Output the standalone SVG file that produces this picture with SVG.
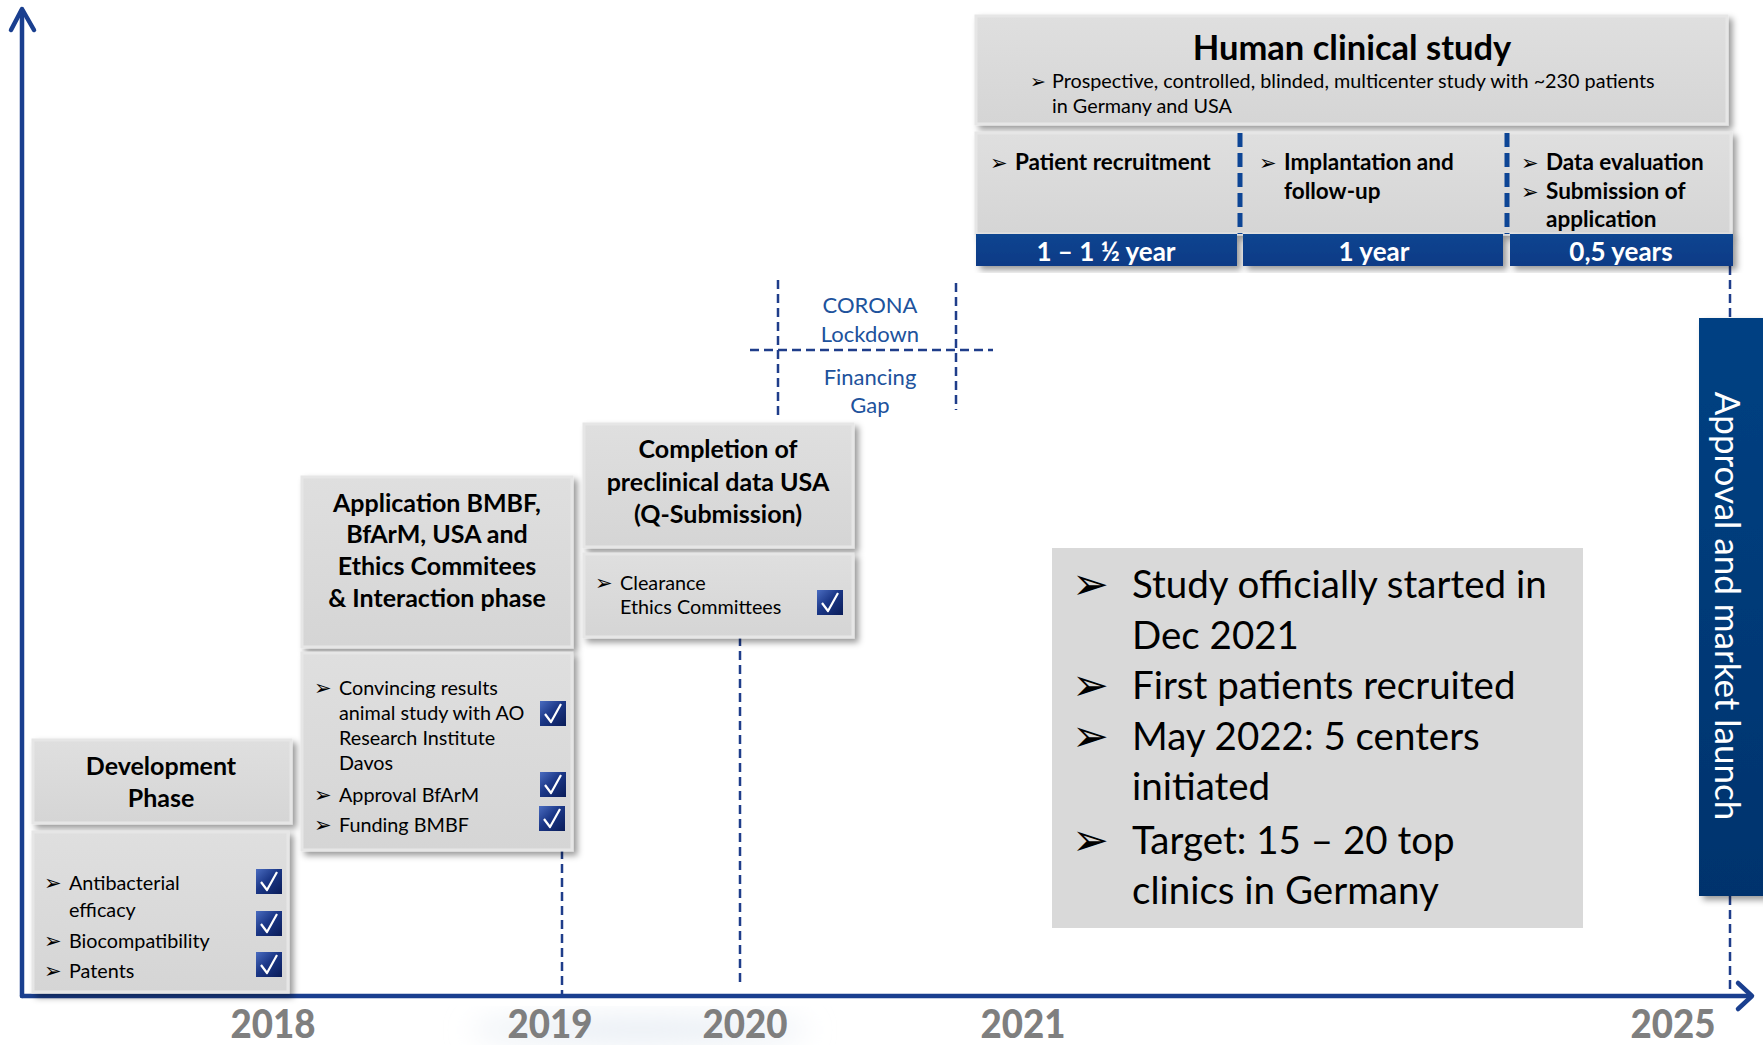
<svg xmlns="http://www.w3.org/2000/svg" xmlns:xlink="http://www.w3.org/1999/xlink" width="1763" height="1045" viewBox="0 0 1763 1045">
  <defs>
    <style>
      text { font-family: Lato, "Open Sans", "Liberation Sans", sans-serif; fill: #000; }
      .ttl { font-weight: 700; font-size: 25px; text-anchor: middle; }
      .itm { font-size: 19.8px; }
      .bul { font-family: "DejaVu Sans", sans-serif; font-size: 21px; }
      .bulB { font-family: "DejaVu Sans", sans-serif; font-size: 44px; }
      .col { font-weight: 700; font-size: 22.5px; }
      .band { font-weight: 700; font-size: 26px; fill: #fff; text-anchor: middle; }
      .blue { font-size: 22px; fill: #20529c; text-anchor: middle; }
      .big { font-size: 38.5px; }
      .year { font-weight: 900; font-size: 40px; fill: #7f7f7f; text-anchor: middle; }
      .box { fill: url(#boxFill); stroke: #e6e6e6; stroke-width: 3; filter: url(#shadow); }
      .bandRect { fill: url(#bandFill); filter: url(#shadow); }
      .axis { stroke: #1a3f8f; stroke-width: 4.5; fill: none; stroke-linecap: round; stroke-linejoin: round; }
      .dash { stroke: #1f3d8a; stroke-width: 2.5; fill: none; stroke-dasharray: 9 5; }
      .divider { stroke: #0d4595; stroke-width: 5; fill: none; stroke-dasharray: 14 6; }
    </style>
    <linearGradient id="boxFill" x1="0" y1="0" x2="0" y2="1">
      <stop offset="0" stop-color="#dfdfdf"/>
      <stop offset="1" stop-color="#d5d5d5"/>
    </linearGradient>
    <linearGradient id="bandFill" x1="0" y1="0" x2="0" y2="1">
      <stop offset="0" stop-color="#114590"/>
      <stop offset="1" stop-color="#093a86"/>
    </linearGradient>
    <linearGradient id="launchFill" x1="0" y1="0" x2="0" y2="1">
      <stop offset="0" stop-color="#004183"/>
      <stop offset="1" stop-color="#00336d"/>
    </linearGradient>
    <linearGradient id="chkFill" x1="0" y1="0" x2="1" y2="1">
      <stop offset="0" stop-color="#4a6cc0"/>
      <stop offset="0.45" stop-color="#1b3787"/>
      <stop offset="1" stop-color="#0a1c58"/>
    </linearGradient>
    <filter id="shadow" x="-10%" y="-10%" width="125%" height="130%">
      <feDropShadow dx="4" dy="4" stdDeviation="3" flood-color="#000" flood-opacity="0.4"/>
    </filter>
    <filter id="haze" x="-50%" y="-50%" width="200%" height="200%">
      <feGaussianBlur stdDeviation="14"/>
    </filter>
    <symbol id="chk" viewBox="0 0 26 25">
      <rect x="0" y="0" width="26" height="25" fill="url(#chkFill)"/>
      <polyline points="5,13 11,21 21,3" fill="none" stroke="#fff" stroke-width="2.2" stroke-linejoin="round"/>
    </symbol>
  </defs>

  <rect width="1763" height="1045" fill="#fff"/>

  <!-- soft haze below the time axis -->
  <ellipse cx="640" cy="1030" rx="170" ry="12" fill="#e6ecf3" filter="url(#haze)"/>

  <!-- connectors: axes and dashed guides -->
  <g id="connectors">
    <line class="axis" x1="22" y1="10" x2="22" y2="996"/>
    <polyline class="axis" points="11,30 22,9 34,30"/>
    <line class="axis" x1="22" y1="996" x2="1750" y2="996"/>
    <polyline class="axis" points="1738,983 1752,996 1738,1009"/>
    <line class="dash" x1="562" y1="850" x2="562" y2="994"/>
    <line class="dash" x1="740" y1="637" x2="740" y2="982"/>
    <line class="dash" x1="1730" y1="266" x2="1730" y2="994"/>
    <line class="dash" x1="778" y1="280" x2="778" y2="415"/>
    <line class="dash" x1="956" y1="283" x2="956" y2="410"/>
    <line class="dash" x1="750" y1="350" x2="993" y2="350"/>
  </g>

  <!-- year labels -->
  <g id="years">
    <text class="year" x="273" y="1038" textLength="85" lengthAdjust="spacingAndGlyphs">2018</text>
    <text class="year" x="550" y="1038" textLength="85" lengthAdjust="spacingAndGlyphs">2019</text>
    <text class="year" x="745" y="1038" textLength="85" lengthAdjust="spacingAndGlyphs">2020</text>
    <text class="year" x="1023" y="1038" textLength="85" lengthAdjust="spacingAndGlyphs">2021</text>
    <text class="year" x="1673" y="1038" textLength="85" lengthAdjust="spacingAndGlyphs">2025</text>
  </g>

  <!-- development phase -->
  <g id="development">
    <rect class="box" x="33" y="740" width="258" height="83"/>
    <text class="ttl" x="161" y="775">Development</text>
    <text class="ttl" x="161" y="807">Phase</text>
    <rect class="box" x="33" y="832" width="255" height="160"/>
    <text class="bul" x="44" y="890">➢</text>
    <text class="itm" x="69" y="890">Antibacterial</text>
    <text class="itm" x="69" y="917">efficacy</text>
    <text class="bul" x="44" y="948">➢</text>
    <text class="itm" x="69" y="948">Biocompatibility</text>
    <text class="bul" x="44" y="978">➢</text>
    <text class="itm" x="69" y="978">Patents</text>
    <use href="#chk" x="256" y="869" width="26" height="25"/>
    <use href="#chk" x="256" y="911" width="26" height="25"/>
    <use href="#chk" x="256" y="952" width="26" height="25"/>
  </g>

  <!-- application phase -->
  <g id="application">
    <rect class="box" x="302" y="477" width="270" height="170"/>
    <text class="ttl" x="437" y="512">Application BMBF,</text>
    <text class="ttl" x="437" y="543">BfArM, USA and</text>
    <text class="ttl" x="437" y="575">Ethics Commitees</text>
    <text class="ttl" x="437" y="607">&amp; Interaction phase</text>
    <rect class="box" x="302" y="653" width="270" height="197"/>
    <text class="bul" x="314" y="695">➢</text>
    <text class="itm" x="339" y="695">Convincing results</text>
    <text class="itm" x="339" y="720">animal study with AO</text>
    <text class="itm" x="339" y="745">Research Institute</text>
    <text class="itm" x="339" y="770">Davos</text>
    <text class="bul" x="314" y="802">➢</text>
    <text class="itm" x="339" y="802">Approval BfArM</text>
    <text class="bul" x="314" y="832">➢</text>
    <text class="itm" x="339" y="832">Funding BMBF</text>
    <use href="#chk" x="540" y="701" width="26" height="25"/>
    <use href="#chk" x="540" y="772" width="26" height="25"/>
    <use href="#chk" x="539" y="806" width="26" height="25"/>
  </g>

  <!-- preclinical completion -->
  <g id="preclinical">
    <rect class="box" x="584" y="424" width="269" height="123"/>
    <text class="ttl" x="718" y="458">Completion of</text>
    <text class="ttl" x="718" y="491">preclinical data USA</text>
    <text class="ttl" x="718" y="523">(Q-Submission)</text>
    <rect class="box" x="584" y="554" width="269" height="83"/>
    <text class="bul" x="595" y="590">➢</text>
    <text class="itm" x="620" y="590">Clearance</text>
    <text class="itm" x="620" y="614">Ethics Committees</text>
    <use href="#chk" x="817" y="590" width="26" height="25"/>
  </g>

  <!-- corona lockdown / financing gap -->
  <g id="corona">
    <text class="blue" x="870" y="313">CORONA</text>
    <text class="blue" x="870" y="342">Lockdown</text>
    <text class="blue" x="870" y="385">Financing</text>
    <text class="blue" x="870" y="413">Gap</text>
  </g>

  <!-- human clinical study -->
  <g id="human-study">
    <rect class="box" x="976" y="16" width="751" height="108"/>
    <text x="1352" y="60" style="font-weight:700;font-size:34.5px;text-anchor:middle">Human clinical study</text>
    <text class="bul" x="1030" y="88" style="font-size:19px">➢</text>
    <text x="1052" y="88" style="font-size:19.8px">Prospective, controlled, blinded, multicenter study with ~230 patients</text>
    <text x="1052" y="113" style="font-size:19.8px">in Germany and USA</text>
    <rect class="box" x="976" y="133" width="755" height="101"/>
    <line class="divider" x1="1240" y1="133" x2="1240" y2="234"/>
    <line class="divider" x1="1507" y1="133" x2="1507" y2="234"/>
    <text class="bul" x="990" y="170">➢</text>
    <text class="col" x="1015" y="170">Patient recruitment</text>
    <text class="bul" x="1259" y="170">➢</text>
    <text class="col" x="1284" y="170">Implantation and</text>
    <text class="col" x="1284" y="199">follow-up</text>
    <text class="bul" x="1521" y="170">➢</text>
    <text class="col" x="1546" y="170">Data evaluation</text>
    <text class="bul" x="1521" y="199">➢</text>
    <text class="col" x="1546" y="199">Submission of</text>
    <text class="col" x="1546" y="227">application</text>
    <rect class="bandRect" x="976" y="234" width="261" height="32"/>
    <rect class="bandRect" x="1243" y="234" width="260" height="32"/>
    <rect class="bandRect" x="1510" y="234" width="223" height="32"/>
    <text class="band" x="1106" y="261">1 – 1 ½  year</text>
    <text class="band" x="1374" y="261">1 year</text>
    <text class="band" x="1621" y="261">0,5 years</text>
  </g>

  <!-- status summary -->
  <g id="status">
    <rect x="1052" y="548" width="531" height="380" fill="#d9d9d9"/>
    <text class="bulB" x="1072" y="599">➢</text>
    <text class="big" x="1132" y="598">Study officially started in</text>
    <text class="big" x="1132" y="649">Dec 2021</text>
    <text class="bulB" x="1072" y="700">➢</text>
    <text class="big" x="1132" y="699">First patients recruited</text>
    <text class="bulB" x="1072" y="751">➢</text>
    <text class="big" x="1132" y="750">May 2022: 5 centers</text>
    <text class="big" x="1132" y="800">initiated</text>
    <text class="bulB" x="1072" y="855">➢</text>
    <text class="big" x="1132" y="854">Target: 15 – 20 top</text>
    <text class="big" x="1132" y="904">clinics in Germany</text>
  </g>

  <!-- approval and market launch -->
  <g id="launch">
    <rect x="1699" y="318" width="70" height="578" fill="url(#launchFill)" filter="url(#shadow)"/>
    <text x="1729" y="606" transform="rotate(90 1729 606)" style="font-size:35px;fill:#fff;text-anchor:middle" dominant-baseline="central">Approval and market launch</text>
  </g>
</svg>
